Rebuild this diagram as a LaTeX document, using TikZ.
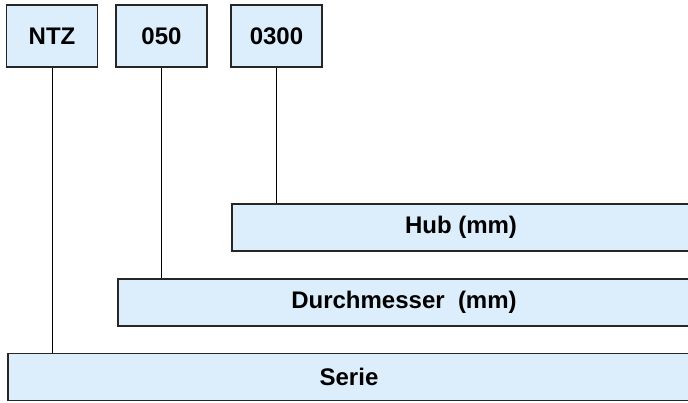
\documentclass[tikz,border=0pt]{standalone}
\usepackage{fontspec}
\setmainfont{Liberation Sans}
\definecolor{boxfill}{HTML}{DCEEFB}
\begin{document}
\begin{tikzpicture}[x=1pt,y=-1pt,
  codebox/.style={draw=black!85,fill=boxfill,line width=1.2pt,minimum width=91pt,minimum height=62pt,inner sep=0pt,font=\bfseries\fontsize{24}{26}\selectfont},
  bar/.style={draw=black!85,fill=boxfill,line width=1.2pt,inner sep=0pt,minimum height=47pt,font=\bfseries\fontsize{24}{26}\selectfont},
  conn/.style={draw=black,line width=1pt}]
\useasboundingbox (0,0) rectangle (688,403);
\node[codebox] (ntz) at (52,36) {NTZ};
\node[codebox] (d050) at (161.5,36) {050};
\node[codebox] (d0300) at (276.5,36) {0300};
\node[bar,minimum width=458pt] (hub) at (461,227.5) {Hub (mm)};
\node[bar,minimum width=572pt] (dm) at (404,302.5) {Durchmesser\ \ (mm)};
\node[bar,minimum width=682pt] (se) at (349,377) {Serie};
\draw[conn] (ntz.south) -- (ntz.south |- se.north);
\draw[conn] (d050.south) -- (d050.south |- dm.north);
\draw[conn] (d0300.south) -- (d0300.south |- hub.north);
\end{tikzpicture}
\end{document}
